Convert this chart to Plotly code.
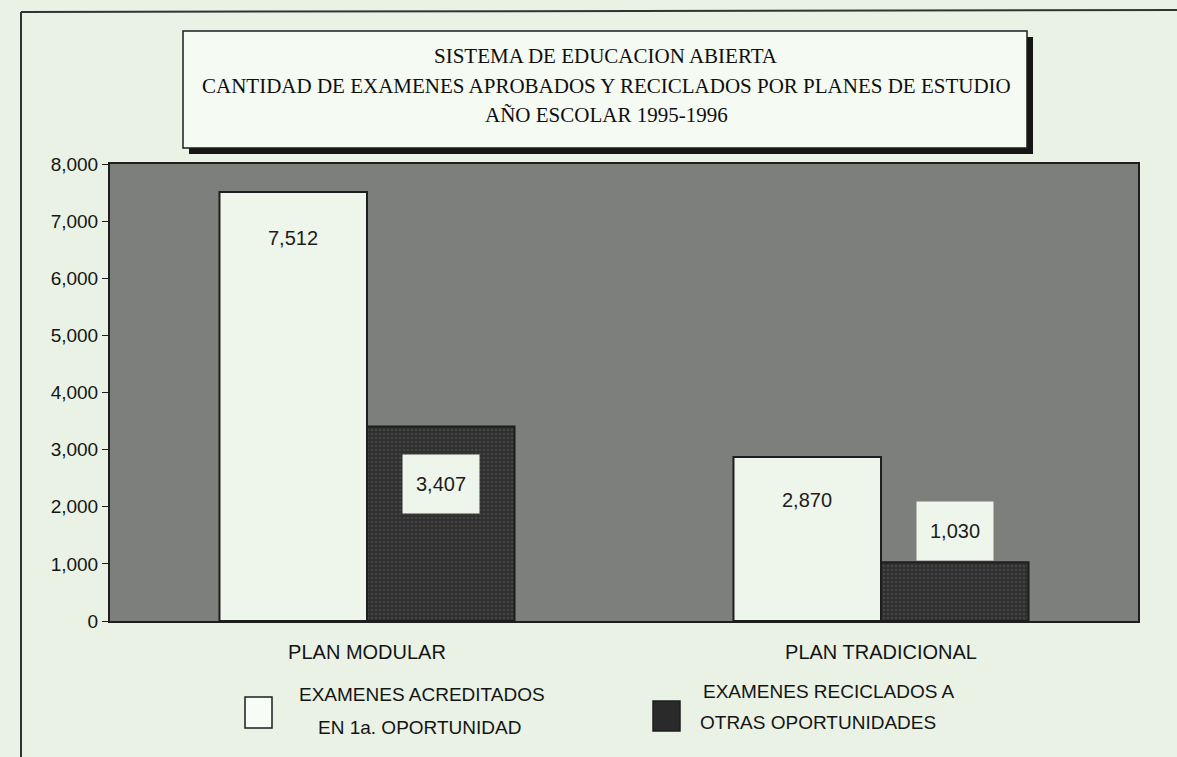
import plotly.graph_objects as go

categories = ["PLAN MODULAR", "PLAN TRADICIONAL"]
acreditados = [7512, 2870]
reciclados = [3407, 1030]
legend_lines = [["EXAMENES ACREDITADOS", "EN 1a. OPORTUNIDAD"],
                ["EXAMENES RECICLADOS A", "OTRAS OPORTUNIDADES"]]
title_lines = ["SISTEMA DE EDUCACION ABIERTA",
               "CANTIDAD DE EXAMENES APROBADOS Y RECICLADOS POR PLANES DE ESTUDIO",
               "AÑO ESCOLAR 1995-1996"]
y_ticks = [0, 1000, 2000, 3000, 4000, 5000, 6000, 7000, 8000]

W, H = 1177, 757
L, R, T, B = 110, 39, 164, 136
PW, PH = W - L - R, H - T - B

def px(x):
    return (x - L) / PW

def py(y):
    return (H - B - y) / PH

paper_bg = "#e9f2e5"
plot_bg = "#7c7f7b"
light = "#eef5eb"
dark = "#363636"
ink = "#1e1e1e"
sans = "Liberation Sans, Arial, sans-serif"
serif = "Liberation Serif, Times New Roman, serif"

fig = go.Figure()
fig.add_trace(go.Bar(x=categories, y=acreditados, name=" ".join(legend_lines[0]),
                     marker=dict(color=light, line=dict(color=ink, width=2))))
fig.add_trace(go.Bar(x=categories, y=reciclados, name=" ".join(legend_lines[1]),
                     marker=dict(color=dark, line=dict(color=ink, width=2),
                                 pattern=dict(shape=".", fgcolor="#5a5a5a", bgcolor="#2f2f2f",
                                              size=4, solidity=0.35))))

shapes = []
annotations = []

# page frame
shapes.append(dict(type="line", xref="paper", yref="paper",
                   x0=px(21), x1=px(21), y0=py(12), y1=py(760),
                   line=dict(color="#333", width=2)))
shapes.append(dict(type="line", xref="paper", yref="paper",
                   x0=px(21), x1=px(1177), y0=py(12), y1=py(10),
                   line=dict(color="#333", width=2)))

# title box with shadow
shapes.append(dict(type="rect", xref="paper", yref="paper",
                   x0=px(189), x1=px(1033), y0=py(154), y1=py(37),
                   fillcolor="#151515", line=dict(width=0), layer="above"))
shapes.append(dict(type="rect", xref="paper", yref="paper",
                   x0=px(183), x1=px(1027), y0=py(148), y1=py(31),
                   fillcolor="#f5faf2", line=dict(color=ink, width=1.5), layer="above"))
for line, yy in zip(title_lines, [56, 86, 115]):
    annotations.append(dict(xref="paper", yref="paper", x=px(606), y=py(yy),
                            text=line, showarrow=False, xanchor="center", yanchor="middle",
                            font=dict(family=serif, size=21, color="#0e0e0e")))

# value labels
shifts = {(0, 0): (-74, -46), (0, 1): (-74, -43), (1, 0): (74, -58), (1, 1): (74, 31)}
for s, vals in enumerate([acreditados, reciclados]):
    for c, v in enumerate(vals):
        xs, ys = shifts[(s, c)]
        annotations.append(dict(x=categories[c], y=v, xref="x", yref="y",
                                xshift=xs, yshift=ys, text=f"{v:,}", showarrow=False,
                                width=74, height=56, bgcolor=light,
                                font=dict(family=sans, size=20, color="#1c1c1c")))

# custom legend
shapes.append(dict(type="rect", xref="paper", yref="paper",
                   x0=px(245), x1=px(272), y0=py(728), y1=py(697),
                   fillcolor="#f8fcf6", line=dict(color=ink, width=1.5)))
shapes.append(dict(type="rect", xref="paper", yref="paper",
                   x0=px(653), x1=px(680), y0=py(731), y1=py(701),
                   fillcolor="#2a2a2a", line=dict(color=ink, width=1.5)))
legend_pos = [[(422, 694), (419, 727)], [(829, 691), (818, 722)]]
for lines, poss in zip(legend_lines, legend_pos):
    for text, (lx, ly) in zip(lines, poss):
        annotations.append(dict(xref="paper", yref="paper", x=px(lx), y=py(ly),
                                text=text, showarrow=False, xanchor="center", yanchor="middle",
                                font=dict(family=sans, size=19, color="#141414")))

fig.update_layout(
    width=W, height=H,
    margin=dict(l=L, r=R, t=T, b=B, pad=0),
    paper_bgcolor=paper_bg, plot_bgcolor=plot_bg,
    barmode="group", bargap=0.426, bargroupgap=0,
    showlegend=False,
    shapes=shapes, annotations=annotations,
    xaxis=dict(type="category", showline=True, mirror=True, linecolor=ink, linewidth=2,
               ticks="", tickfont=dict(family=sans, size=20, color="#141414"),
               ticklabelstandoff=12, showgrid=False),
    yaxis=dict(range=[0, 8000], tickvals=y_ticks, tickformat=",", showline=True,
               mirror=True, linecolor=ink, linewidth=2, ticks="outside", ticklen=6,
               tickcolor=ink, showgrid=False, zeroline=False,
               tickfont=dict(family=sans, size=19, color="#141414")),
)

fig.write_html("out.html",
               config={"displayModeBar": False},
               post_script="document.body.style.margin='0';"
                           "document.body.style.background='" + paper_bg + "';"
                           "document.body.style.overflow='hidden';")
